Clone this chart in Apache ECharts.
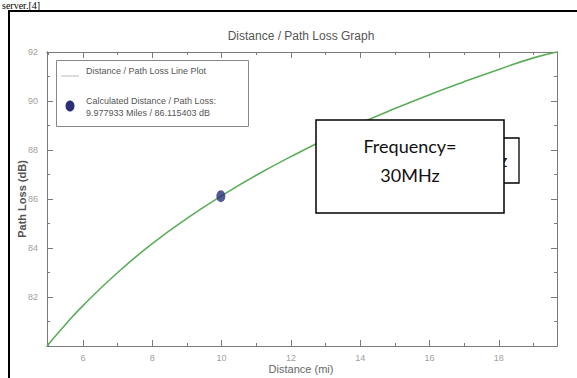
<!DOCTYPE html>
<html>
<head>
<meta charset="utf-8">
<script src="https://cdn.jsdelivr.net/npm/echarts@6/dist/echarts.min.js"></script>
<style>html,body{margin:0;padding:0;background:#fff}#c{width:577px;height:378px}</style>
</head>
<body>
<div id="c"></div>
<script>
// Data
const distances = [4.96, 5.5, 6, 7, 8, 9, 10, 11, 12, 13, 14, 15, 16, 17, 18, 19, 19.68];
const pathLoss  = [80.0, 80.89, 81.65, 83.0, 84.18, 85.21, 86.13, 86.97, 87.73, 88.44, 89.09, 89.69, 90.26, 90.79, 91.29, 91.76, 92.0];
const calcPoint = [9.977933, 86.115403];
const xMajorTicks = [6, 8, 10, 12, 14, 16, 18];
const xMinorTicks = [5, 7, 9, 11, 13, 15, 17, 19];
const yMajorTicks = [82, 84, 86, 88, 90, 92];
const yMinorTicks = [81, 83, 85, 87, 89, 91];
const titleText = 'Distance / Path Loss Graph';
const xName = 'Distance (mi)';
const yName = 'Path Loss (dB)';
const legendLine = 'Distance / Path Loss Line Plot';
const legendPoint1 = 'Calculated Distance / Path Loss:';
const legendPoint2 = '9.977933 Miles / 86.115403 dB';

const lineData = distances.map((d, i) => [d, pathLoss[i]]);
const X_MIN = 4.96, X_MAX = 19.68, Y_MIN = 80, Y_MAX = 92;
const axisCol = '#7a7a7a', labCol = '#a0a0a0', font = 'Liberation Sans';

function xAx(pos, ticks, len, labels) {
  return {
    type: 'value', position: pos, min: X_MIN, max: X_MAX, interval: 1,
    axisLine: { show: true, onZero: false, lineStyle: { color: axisCol, width: 1 } },
    axisTick: { show: true, inside: true, length: len, customValues: ticks, lineStyle: { color: axisCol } },
    axisLabel: labels ? { show: true, customValues: ticks, color: labCol, fontSize: 9, fontFamily: font, margin: 7 } : { show: false },
    splitLine: { show: false }
  };
}
function yAx(pos, ticks, len, labels) {
  return {
    type: 'value', position: pos, min: Y_MIN, max: Y_MAX, interval: 1,
    axisLine: { show: true, onZero: false, lineStyle: { color: axisCol, width: 1 } },
    axisTick: { show: true, inside: true, length: len, customValues: ticks, lineStyle: { color: axisCol } },
    axisLabel: labels ? { show: true, customValues: ticks, color: labCol, fontSize: 9, fontFamily: font, margin: 9 } : { show: false },
    splitLine: { show: false }
  };
}

const chart = echarts.init(document.getElementById('c'), null, { renderer: 'svg' });
chart.setOption({
  animation: false,
  backgroundColor: '#fff',
  grid: { left: 47, right: 20, top: 52, bottom: 32, containLabel: false },
  xAxis: [
    xAx('bottom', xMajorTicks, 6, true),
    xAx('top', xMajorTicks, 6, false),
    xAx('bottom', xMinorTicks, 3, false),
    xAx('top', xMinorTicks, 3, false)
  ],
  yAxis: [
    yAx('left', yMajorTicks, 6, true),
    yAx('right', yMajorTicks, 6, false),
    yAx('left', yMinorTicks, 3, false),
    yAx('right', yMinorTicks, 3, false)
  ],
  series: [
    {
      type: 'line', name: legendLine, xAxisIndex: 0, yAxisIndex: 0,
      data: lineData, smooth: true, showSymbol: false,
      lineStyle: { color: '#5cad5a', width: 1.6 }, z: 3
    },
    {
      type: 'scatter', name: legendPoint1, xAxisIndex: 0, yAxisIndex: 0,
      data: [calcPoint], symbol: 'circle', symbolSize: [9, 12],
      itemStyle: { color: '#2c3079' }, z: 4
    }
  ],
  graphic: [
    // document fragment above the figure
    { type: 'text', x: 2, y: 0, z: 100, style: { text: 'server.[4]', font: '10px "Liberation Serif"', fill: '#000', verticalAlign: 'top' } },
    // outer frame
    { type: 'line', z: 100, shape: { x1: 8, y1: 11, x2: 577, y2: 11 }, style: { stroke: '#000', lineWidth: 2 } },
    { type: 'line', z: 100, shape: { x1: 9, y1: 10, x2: 9, y2: 378 }, style: { stroke: '#000', lineWidth: 2 } },
    // title
    { type: 'text', x: 301, y: 36, z: 100, style: { text: titleText, font: '12px "Liberation Sans"', fill: '#555', align: 'center', verticalAlign: 'middle' } },
    // axis names
    { type: 'text', x: 301, y: 369, z: 100, style: { text: xName, font: '11px "Liberation Sans"', fill: '#666', align: 'center', verticalAlign: 'middle' } },
    { type: 'text', x: 22, y: 199, rotation: Math.PI / 2, z: 100, style: { text: yName, font: 'bold 11px "Liberation Sans"', fill: '#555', align: 'center', verticalAlign: 'middle' } },
    // legend
    { type: 'rect', z: 50, shape: { x: 56.5, y: 60.5, width: 192, height: 66 }, style: { fill: '#fff', stroke: '#888', lineWidth: 1 } },
    { type: 'line', z: 51, shape: { x1: 61, y1: 76, x2: 79, y2: 76 }, style: { stroke: '#bbb', lineWidth: 1 } },
    { type: 'text', x: 86, y: 71, z: 51, style: { text: legendLine, font: '9px "Liberation Sans"', fill: '#555', verticalAlign: 'middle' } },
    { type: 'ellipse', z: 51, shape: { cx: 70, cy: 106, rx: 4.5, ry: 5.5 }, style: { fill: '#2c3079' } },
    { type: 'text', x: 86, y: 101, z: 51, style: { text: legendPoint1, font: '9px "Liberation Sans"', fill: '#555', verticalAlign: 'middle' } },
    { type: 'text', x: 86, y: 113, z: 51, style: { text: legendPoint2, font: '9px "Liberation Sans"', fill: '#555', verticalAlign: 'middle' } },
    // frequency annotation boxes
    { type: 'rect', z: 60, shape: { x: 480, y: 138, width: 39, height: 45 }, style: { fill: '#fff', stroke: '#000', lineWidth: 1.3 } },
    { type: 'text', x: 487, y: 160, z: 61, style: { text: 'Hz', font: '17px Lato', fill: '#222', verticalAlign: 'middle' } },
    { type: 'rect', z: 70, shape: { x: 316, y: 120, width: 188, height: 93 }, style: { fill: '#fff', stroke: '#000', lineWidth: 1.5 } },
    { type: 'text', x: 410, y: 146, z: 71, style: { text: 'Frequency=', font: '18px Lato', fill: '#111', align: 'center', verticalAlign: 'middle' } },
    { type: 'text', x: 410, y: 175, z: 71, style: { text: '30MHz', font: '18px Lato', fill: '#111', align: 'center', verticalAlign: 'middle' } }
  ]
});
</script>
</body>
</html>
